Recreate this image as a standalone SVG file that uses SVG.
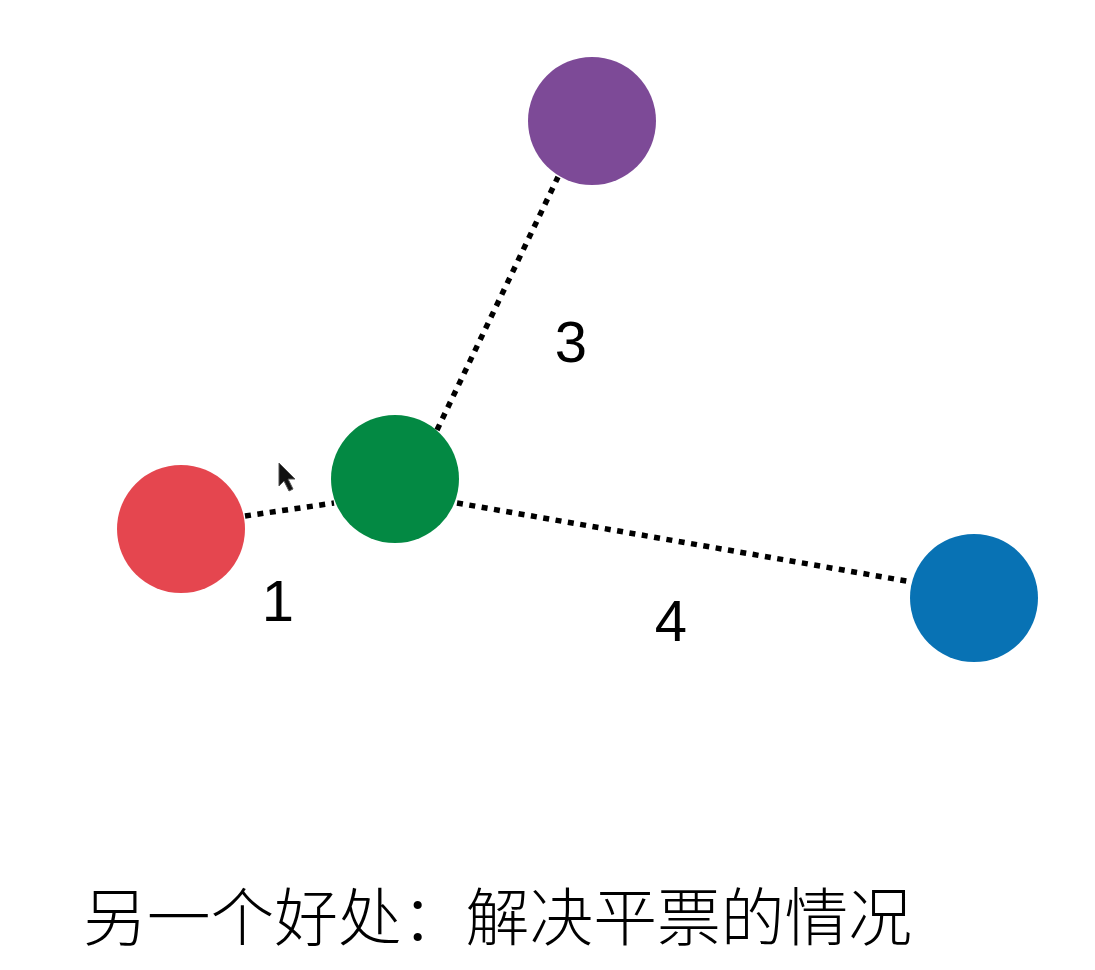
<svg xmlns="http://www.w3.org/2000/svg" width="1095" height="970" viewBox="0 0 1095 970">
<style>
.edge{stroke:#000;stroke-width:5.5;stroke-dasharray:6 6.5;fill:none}
.lbl{font-family:"Liberation Sans",Arial,sans-serif;font-size:58px;fill:#000;text-anchor:middle}
.cap{font-family:"Noto Sans CJK SC","Liberation Sans",sans-serif;font-weight:300;font-size:63px;fill:#000}
</style>
<rect width="1095" height="970" fill="#fff"/>
<g id="connectors">
<line class="edge" x1="245" y1="516" x2="334" y2="503"/>
<line class="edge" x1="437" y1="430" x2="558" y2="177"/>
<line class="edge" x1="457" y1="503" x2="912" y2="582"/>
</g>
<g id="node-red"><circle cx="181" cy="529" r="64" fill="#E5464F"/></g>
<g id="node-green"><circle cx="395" cy="479" r="64" fill="#038943"/></g>
<g id="node-purple"><circle cx="592" cy="121" r="64" fill="#7D4A97"/></g>
<g id="node-blue"><circle cx="974" cy="598" r="64" fill="#0872B4"/></g>
<g id="labels">
<text class="lbl" x="571" y="362">3</text>
<text class="lbl" x="278" y="621">1</text>
<text class="lbl" x="671" y="641">4</text>
</g>
<g id="cursor"><path d="M279,463 L279,486 L284,481 L289,491 L293,489 L288,479 L295,479 Z" fill="#111" stroke="#555" stroke-width="1"/></g>
<text class="cap" x="83" y="940" textLength="829" lengthAdjust="spacingAndGlyphs">另一个好处：解决平票的情况</text>
</svg>
